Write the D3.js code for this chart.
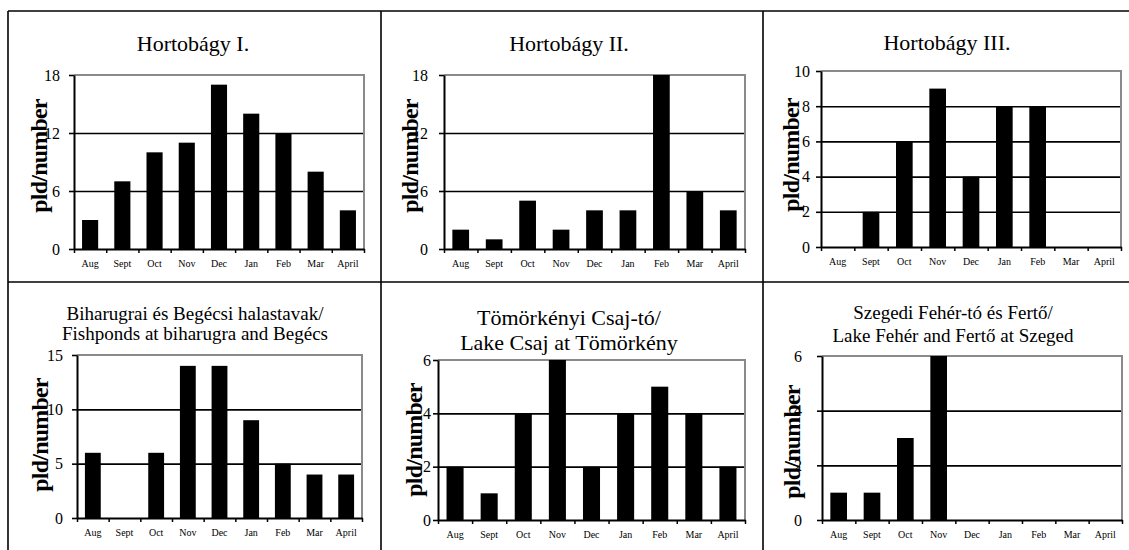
<!DOCTYPE html>
<html>
<head>
<meta charset="utf-8">
<script src="https://cdn.jsdelivr.net/npm/d3@7"></script>
<style>
body { margin: 0; background: #fff; }
svg { display: block; font-family: "Liberation Serif", "Times New Roman", serif; }
</style>
</head>
<body>
<div class="chart"></div>
<script>
// Data ---------------------------------------------------------------------
const months = ["Aug", "Sept", "Oct", "Nov", "Dec", "Jan", "Feb", "Mar", "April"];

const hortobagy1 = [3, 7, 10, 11, 17, 14, 12, 8, 4];
const hortobagy2 = [2, 1, 5, 2, 4, 4, 18, 6, 4];
const hortobagy3 = [0, 2, 6, 9, 4, 8, 8, 0, 0];
const biharugra = [6, 0, 6, 14, 14, 9, 5, 4, 4];
const tomorkeny = [2, 1, 4, 6, 2, 4, 5, 4, 2];
const szeged = [1, 1, 3, 6, 0, 0, 0, 0, 0];

const ticks1 = [0, 6, 12, 18];
const ticks2 = [0, 6, 12, 18];
const ticks3 = [0, 2, 4, 6, 8, 10];
const ticks4 = [0, 5, 10, 15];
const ticks5 = [0, 2, 4, 6];
const ticks6 = [0, 2, 4, 6];

const titles1 = ["Hortobágy I."];
const titles2 = ["Hortobágy II."];
const titles3 = ["Hortobágy III."];
const titles4 = ["Biharugrai és Begécsi halastavak/", "Fishponds at biharugra and Begécs"];
const titles5 = ["Tömörkényi Csaj-tó/", "Lake Csaj at Tömörkény"];
const titles6 = ["Szegedi Fehér-tó és Fertő/", "Lake Fehér and Fertő at Szeged"];

const yLabel = "pld/number";

// SVG Dimensions ---------------------------------------------------------------------
const width = 1129;
const height = 550;

const svg = d3.select(".chart")
  .append("svg")
  .attr("width", width)
  .attr("height", height);

// Table lines ---------------------------------------------------------------------
const border = svg.append("g")
  .attr("stroke", "#000")
  .attr("stroke-width", 1.6);
border.append("line").attr("x1", 8).attr("x2", width).attr("y1", 11).attr("y2", 11);
border.append("line").attr("x1", 8).attr("x2", width).attr("y1", 282).attr("y2", 282);
border.append("line").attr("x1", 8).attr("x2", 8).attr("y1", 11).attr("y2", height);
border.append("line").attr("x1", 381).attr("x2", 381).attr("y1", 11).attr("y2", height);
border.append("line").attr("x1", 763).attr("x2", 763).attr("y1", 11).attr("y2", height);

// Panels ---------------------------------------------------------------------
const panels = [
  { values: hortobagy1, ticks: ticks1, titles: titles1, left: 74, right: 364, top: 75, bottom: 249,
    titleX: 193, titleY: 51, titleSize: 22, lineGap: 0, labelX: 47, labelY: 156, pad: 9 },
  { values: hortobagy2, ticks: ticks2, titles: titles2, left: 444, right: 745, top: 75, bottom: 249,
    titleX: 569, titleY: 51, titleSize: 22, lineGap: 0, labelX: 418, labelY: 156, pad: 11 },
  { values: hortobagy3, ticks: ticks3, titles: titles3, left: 821, right: 1121, top: 71, bottom: 247,
    titleX: 947, titleY: 50, titleSize: 22, lineGap: 0, labelX: 799, labelY: 155, pad: 6 },
  { values: biharugra, ticks: ticks4, titles: titles4, left: 77, right: 362, top: 355, bottom: 518,
    titleX: 195, titleY: 320, titleSize: 19, lineGap: 20, labelX: 48, labelY: 435, pad: 9 },
  { values: tomorkeny, ticks: ticks5, titles: titles5, left: 438, right: 745, top: 360, bottom: 520,
    titleX: 569, titleY: 325, titleSize: 22, lineGap: 25, labelX: 422, labelY: 440, pad: 2 },
  { values: szeged, ticks: ticks6, titles: titles6, left: 822, right: 1122, top: 356, bottom: 520,
    titleX: 953, titleY: 319, titleSize: 19, lineGap: 23, labelX: 800, labelY: 442, pad: 15 }
];

panels.forEach(p => {
  const g = svg.append("g");

  const xScale = d3.scaleBand()
    .domain(months)
    .range([p.left, p.right])
    .paddingInner(0.5)
    .paddingOuter(0.25);

  const xEdges = d3.scaleLinear()
    .domain([0, months.length])
    .range([p.left, p.right]);

  const yScale = d3.scaleLinear()
    .domain([0, d3.max(p.ticks)])
    .range([p.bottom, p.top]);

  // Y label (drawn first so tick numbers sit on top of it)
  g.append("text")
    .attr("transform", `translate(${p.labelX},${p.labelY}) rotate(-90)`)
    .attr("text-anchor", "middle")
    .attr("font-size", 24)
    .attr("font-weight", "bold")
    .attr("letter-spacing", -0.8)
    .text(yLabel);

  // Grid
  const yGrid = d3.axisLeft(yScale)
    .tickValues(p.ticks.slice(1, -1))
    .tickSize(-(p.right - p.left))
    .tickFormat("");
  g.append("g")
    .attr("transform", `translate(${p.left},0)`)
    .call(yGrid)
    .call(a => a.select(".domain").remove())
    .call(a => a.selectAll("line").attr("stroke", "#000").attr("stroke-width", 1.6));

  // Frame top / right (grey)
  g.append("path")
    .attr("d", `M${p.left},${p.top}H${p.right}V${p.bottom}`)
    .attr("fill", "none")
    .attr("stroke", "#8a8a8a")
    .attr("stroke-width", 2);

  // Bars
  g.selectAll(".bar")
    .data(p.values)
    .join("rect")
    .attr("class", "bar")
    .attr("x", (d, i) => xScale(months[i]))
    .attr("y", d => yScale(d))
    .attr("width", xScale.bandwidth())
    .attr("height", d => yScale(0) - yScale(d))
    .attr("fill", "#000");

  // Y axis
  const yAxis = d3.axisLeft(yScale)
    .tickValues(p.ticks)
    .tickFormat(d3.format("d"))
    .tickSize(5)
    .tickPadding(p.pad)
    .tickSizeOuter(0);
  g.append("g")
    .attr("transform", `translate(${p.left},0)`)
    .call(yAxis)
    .call(a => a.select(".domain").attr("stroke-width", 2))
    .call(a => a.selectAll("line").attr("stroke-width", 1.6))
    .call(a => a.selectAll("text")
      .attr("font-family", "Liberation Serif")
      .attr("font-size", 16)
      .attr("fill", "#000"));

  // X axis: ticks at category edges
  const xTicks = d3.axisBottom(xEdges)
    .tickValues(d3.range(months.length + 1))
    .tickSize(4)
    .tickSizeOuter(0)
    .tickFormat("");
  g.append("g")
    .attr("transform", `translate(0,${p.bottom})`)
    .call(xTicks)
    .call(a => a.select(".domain").attr("stroke-width", 2))
    .call(a => a.selectAll("line").attr("stroke-width", 1.5));

  // X labels
  const xAxis = d3.axisBottom(xScale)
    .tickSize(0)
    .tickPadding(11);
  g.append("g")
    .attr("transform", `translate(0,${p.bottom})`)
    .call(xAxis)
    .call(a => a.select(".domain").remove())
    .call(a => a.selectAll("text")
      .attr("font-family", "Liberation Serif")
      .attr("font-size", 10)
      .attr("fill", "#000"));

  // Title
  g.selectAll(".title")
    .data(p.titles)
    .join("text")
    .attr("class", "title")
    .attr("x", p.titleX)
    .attr("y", (d, i) => p.titleY + i * p.lineGap)
    .attr("text-anchor", "middle")
    .attr("font-size", p.titleSize)
    .text(d => d);
});
</script>
</body>
</html>
